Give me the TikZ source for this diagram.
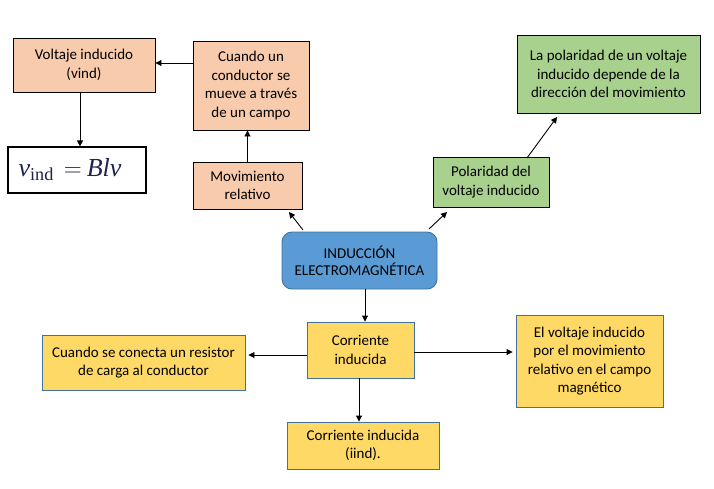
\documentclass[tikz,border=0pt]{standalone}
\usepackage{fontspec}
\setmainfont{Carlito}
\newfontfamily\formulafont{Liberation Serif}
\usetikzlibrary{arrows.meta}

\definecolor{peach}{HTML}{F8CBAD}
\definecolor{leaf}{HTML}{A9D18E}
\definecolor{skyfill}{HTML}{5B9BD5}
\definecolor{skyline}{HTML}{41719C}
\definecolor{gold}{HTML}{FFD966}
\definecolor{ink}{HTML}{1E2350}

\tikzset{
  box/.style={draw, line width=0.9pt, align=center, inner sep=2pt,
              font=\fontsize{15}{18.5}\selectfont, text=black},
  peachbox/.style={box, fill=peach, draw=black},
  leafbox/.style={box, fill=leaf, draw=black},
  goldbox/.style={box, fill=gold, draw=skyline},
  hubbox/.style={box, fill=skyfill, draw=skyline, rounded corners=10pt},
  arr/.style={-{Triangle[length=6pt,width=6pt]}, line width=0.9pt, black}
}

\begin{document}
\begin{tikzpicture}[x=1pt, y=-1pt]
  \useasboundingbox (0,0) rectangle (714,488);

  % upper left branch
  \node[peachbox, minimum width=142pt, minimum height=54pt] (volt) at (84,65)
       {Voltaje inducido\\(vind)};
  \node[peachbox, minimum width=116pt, minimum height=89pt] (cuando) at (251,85.5)
       {Cuando un\\conductor se\\mueve a través\\de un campo};
  \node[peachbox, minimum width=109pt, minimum height=47pt] (mov) at (247.5,185.5)
       {Movimiento\\relativo};
  \node[draw, line width=1.2pt, fill=white, minimum width=138pt, minimum height=46pt,
        text=ink, font=\formulafont\fontsize{26}{26}\selectfont] (formula) at (77,170)
       {\textit{v}\textsubscript{ind}\hspace{10pt}{\fontsize{28}{28}\selectfont$=$}\hspace{5pt}\textit{Blv}\rule{14pt}{0pt}};

  % central concept
  \node[hubbox, minimum width=155pt, minimum height=57pt,
        font=\fontsize{15}{17}\selectfont] (ind) at (359.5,260.5)
       {INDUCCIÓN\\ELECTROMAGNÉTICA};

  % upper right branch
  \node[leafbox, minimum width=116pt, minimum height=50pt] (pol) at (491,182)
       {Polaridad del\\voltaje inducido};
  \node[leafbox, minimum width=183pt, minimum height=78pt] (dir) at (608.5,74)
       {La polaridad de un voltaje\\inducido depende de la\\dirección del movimiento};

  % lower branch
  \node[goldbox, minimum width=107pt, minimum height=56pt] (corr) at (360.5,350)
       {Corriente\\inducida};
  \node[goldbox, minimum width=203pt, minimum height=55pt] (carga) at (143.5,362.5)
       {Cuando se conecta un resistor\\de carga al conductor};
  \node[goldbox, minimum width=147pt, minimum height=92pt] (rel) at (589.5,361)
       {El voltaje inducido\\por el movimiento\\relativo en el campo\\magnético};
  \node[goldbox, minimum width=152pt, minimum height=47pt] (iind) at (363,445.5)
       {Corriente inducida\\(iind).};

  % free ends of the diagonal connectors
  \coordinate (indNW) at (303,230);
  \coordinate (movTip) at (289,212);
  \coordinate (indNE) at (429,229);
  \coordinate (polTip) at (447,212);
  \coordinate (polTop) at (527,158);
  \coordinate (dirTip) at (557,117);

  % connectors
  \draw[arr] (cuando.west |- 0,63) -- (volt.east |- 0,63);
  \draw[arr] ([xshift=-4pt]volt.south) -- ([xshift=-4pt]volt.south |- formula.north);
  \draw[arr] (mov.north) -- (mov.north |- cuando.south);
  \draw[arr] (indNW) -- (movTip);
  \draw[arr] (indNE) -- (polTip);
  \draw[arr] (polTop) -- (dirTip);
  \draw[arr] ([xshift=5.5pt]ind.south) -- ([xshift=5.5pt]ind.south |- corr.north);
  \draw[arr, shorten >=3pt] ([yshift=-5pt]corr.west) -- ([yshift=-5pt]corr.west -| carga.east);
  \draw[arr, shorten >=3pt] ([yshift=-2pt]corr.east) -- ([yshift=-2pt]corr.east -| rel.west);
  \draw[arr] ([xshift=-1.5pt]corr.south) -- ([xshift=-1.5pt]corr.south |- iind.north);
\end{tikzpicture}
\end{document}
